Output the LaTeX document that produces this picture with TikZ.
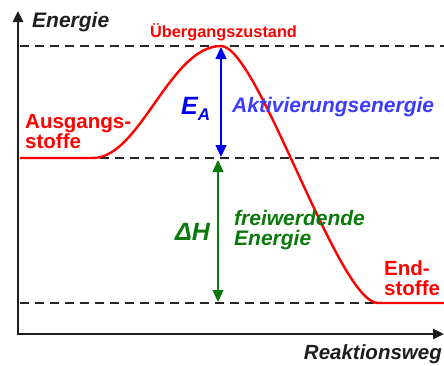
\documentclass[tikz,border=0pt]{standalone}
\usepackage{fontspec}
\setmainfont{Liberation Sans}
\usetikzlibrary{arrows.meta}
\definecolor{cred}{RGB}{255,0,0}
\definecolor{cblue}{RGB}{0,0,240}
\definecolor{cblue2}{RGB}{60,60,255}
\definecolor{cgreen}{RGB}{10,120,10}
\definecolor{caxis}{RGB}{30,30,30}
\tikzset{
  axis/.style={line width=2.6pt, draw=caxis, -{Triangle[length=11pt,width=10pt]}},
  guide/.style={line width=1.5pt, draw=black!85, dash pattern=on 9pt off 6pt},
  curve/.style={line width=2.4pt, draw=cred},
  lbl/.style={inner sep=0pt, anchor=base west, font=\fontsize{21}{24}\selectfont\bfseries\itshape},
  rlbl/.style={inner sep=0pt, anchor=base west, text=cred, font=\fontsize{20.5}{24}\selectfont\bfseries},
  dimarrow/.style={line width=1.4pt, {Triangle[length=12pt,width=11pt]}-{Triangle[length=12pt,width=11pt]}},
}
\begin{document}
\begin{tikzpicture}[x=1pt,y={(0pt,-1pt)}]
\useasboundingbox (0,0) rectangle (444,365);
% coordinates
\coordinate (O) at (18,334);
\coordinate (ytop) at (18,11);
\coordinate (xend) at (444,334);
\coordinate (t1) at (20,46);  \coordinate (t2) at (444,46);
\coordinate (m1) at (100,158); \coordinate (m2) at (444,158);
\coordinate (b1) at (20,303); \coordinate (b2) at (378,303);
\coordinate (c0) at (20,158);
\coordinate (c1) at (93,158);
\coordinate (peak) at (221,46);
\coordinate (c2) at (378,303);
\coordinate (c3) at (444,303);
\coordinate (ea1) at (221,47);
\coordinate (ea2) at (221,157);
\coordinate (dh1) at (218,160);
\coordinate (dh2) at (218,302);
% guides
\draw[guide] (t1) -- (t2);
\draw[guide] (m1) -- (m2);
\draw[guide] (b1) -- (b2);
% curve
\draw[curve] (c0) -- (c1) .. controls (140,158) and (170,46) .. (peak)
  .. controls (258,46) and (338,303) .. (c2) -- (c3);
% axes
\draw[axis] (O) -- (ytop);
\draw[axis, shorten <=-1.3pt] (O) -- (xend);
% dimension arrows
\draw[dimarrow, cblue] (ea2) -- (ea1);
\draw[dimarrow, cgreen] (dh1) -- (dh2);
% labels
\node[lbl, text=caxis] (energie) at (32,27) {Energie};
\node[inner sep=0pt, anchor=base west, text=cred, font=\fontsize{16.3}{18}\selectfont\bfseries] (ueb) at (150,37) {Übergangszustand};
\node[inner sep=0pt, anchor=base west, text=cblue, font=\bfseries\itshape] (ea) at (181,114) {{\fontsize{25}{28}\selectfont E}{\fontsize{17}{20}\selectfont\raisebox{-6pt}{A}}};
\node[lbl, text=cblue2] (akt) at (232,112) {Aktivierungsenergie};
\node[rlbl] (aus1) at (25,128) {Ausgangs-};
\node[rlbl] (aus2) at (25,148) {stoffe};
\node[inner sep=0pt, anchor=base west, text=cgreen, font=\fontsize{25}{28}\selectfont\bfseries\itshape] (dh) at (175,240) {ΔH};
\node[lbl, text=cgreen] (frei1) at (234,225) {freiwerdende};
\node[lbl, text=cgreen] (frei2) at (234,245) {Energie};
\node[rlbl] (end1) at (384,275) {End-};
\node[rlbl] (end2) at (384,295) {stoffe};
\node[inner sep=0pt, anchor=base east, text=caxis, font=\fontsize{20.5}{24}\selectfont\bfseries\itshape] (rw) at (442,359) {Reaktionsweg};
\end{tikzpicture}
\end{document}
